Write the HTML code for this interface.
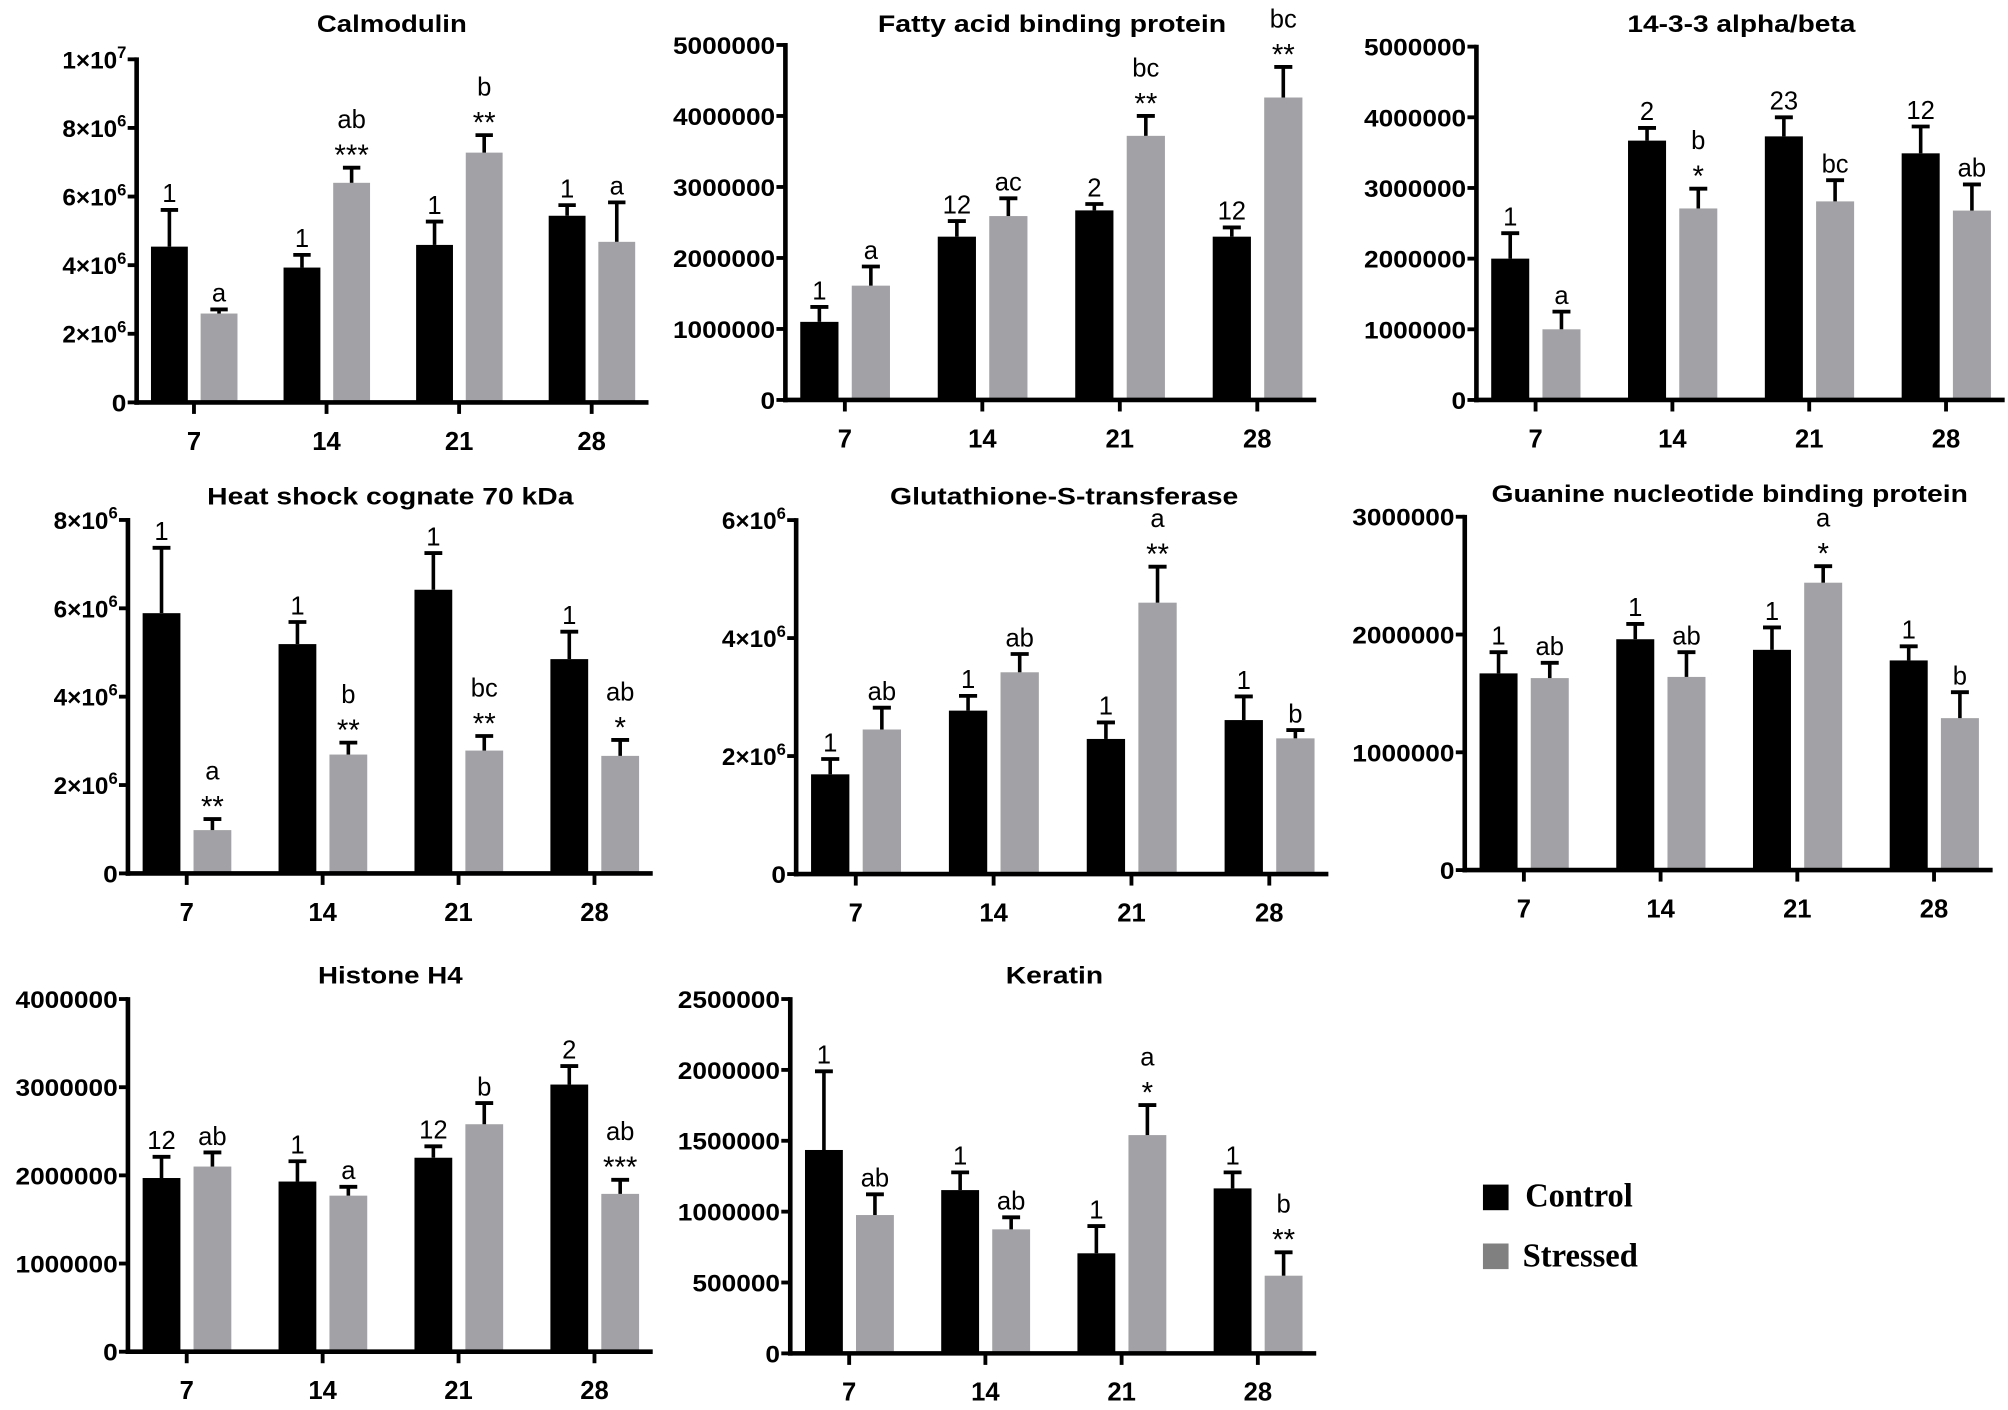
<!DOCTYPE html>
<html>
<head>
<meta charset="utf-8">
<style>
  html,body{margin:0;padding:0;background:#fff;}
  svg{display:block;}
  text{font-family:"Liberation Sans",Arial,sans-serif;}
  text.serif{font-family:"Liberation Serif","Times New Roman",serif;}
</style>
</head>
<body>
<svg id="fig" width="2008" height="1410" viewBox="0 0 1568 1101" xmlns="http://www.w3.org/2000/svg">
  <rect x="0" y="0" width="1568" height="1101" fill="#fff"/>
  <g>
    <rect x="1158" y="925" width="20" height="20" fill="#000"/>
    <text class="serif" x="1191" y="942" font-weight="bold" font-size="26" textLength="84" lengthAdjust="spacingAndGlyphs">Control</text>
    <rect x="1158" y="971" width="20" height="20" fill="#808080"/>
    <text class="serif" x="1189" y="989" font-weight="bold" font-size="26" textLength="90" lengthAdjust="spacingAndGlyphs">Stressed</text>
  </g>
</svg>
<script>
const days = ['7','14','21','28'];

// Calmodulin
const calmodulinControl = [4.54e6, 3.93e6, 4.59e6, 5.44e6];
const calmodulinControlErr = [1.07e6, 0.37e6, 0.68e6, 0.31e6];
const calmodulinStressed = [2.59e6, 6.40e6, 7.28e6, 4.68e6];
const calmodulinStressedErr = [0.12e6, 0.44e6, 0.51e6, 1.15e6];
const calmodulinControlLabels = ['1','1','1','1'];
const calmodulinStressedLabels = ['a','ab','b','a'];
const calmodulinStars = ['','***','**',''];
const calmodulinTicks = [0, 2e6, 4e6, 6e6, 8e6, 1e7];
const calmodulinTickLabels = ['0','2×10|6','4×10|6','6×10|6','8×10|6','1×10|7'];

// Fatty acid binding protein
const fattyControl = [1.10e6, 2.30e6, 2.67e6, 2.30e6];
const fattyControlErr = [0.21e6, 0.22e6, 0.09e6, 0.13e6];
const fattyStressed = [1.61e6, 2.59e6, 3.72e6, 4.26e6];
const fattyStressedErr = [0.27e6, 0.25e6, 0.28e6, 0.43e6];
const fattyControlLabels = ['1','12','2','12'];
const fattyStressedLabels = ['a','ac','bc','bc'];
const fattyStars = ['','','**','**'];
const fattyTicks = [0, 1e6, 2e6, 3e6, 4e6, 5e6];
const fattyTickLabels = ['0','1000000','2000000','3000000','4000000','5000000'];

// 14-3-3 alpha/beta
const alphaBetaControl = [2.00e6, 3.67e6, 3.73e6, 3.49e6];
const alphaBetaControlErr = [0.36e6, 0.18e6, 0.27e6, 0.38e6];
const alphaBetaStressed = [1.00e6, 2.71e6, 2.81e6, 2.68e6];
const alphaBetaStressedErr = [0.25e6, 0.28e6, 0.30e6, 0.37e6];
const alphaBetaControlLabels = ['1','2','23','12'];
const alphaBetaStressedLabels = ['a','b','bc','ab'];
const alphaBetaStars = ['','*','',''];
const alphaBetaTicks = [0, 1e6, 2e6, 3e6, 4e6, 5e6];
const alphaBetaTickLabels = ['0','1000000','2000000','3000000','4000000','5000000'];

// Heat shock cognate 70 kDa
const heatControl = [5.89e6, 5.19e6, 6.42e6, 4.85e6];
const heatControlErr = [1.48e6, 0.50e6, 0.83e6, 0.62e6];
const heatStressed = [0.98e6, 2.69e6, 2.78e6, 2.66e6];
const heatStressedErr = [0.25e6, 0.27e6, 0.33e6, 0.36e6];
const heatControlLabels = ['1','1','1','1'];
const heatStressedLabels = ['a','b','bc','ab'];
const heatStars = ['**','**','**','*'];
const heatTicks = [0, 2e6, 4e6, 6e6, 8e6];
const heatTickLabels = ['0','2×10|6','4×10|6','6×10|6','8×10|6'];

// Glutathione-S-transferase
const gstControl = [1.69e6, 2.77e6, 2.29e6, 2.61e6];
const gstControlErr = [0.26e6, 0.25e6, 0.28e6, 0.40e6];
const gstStressed = [2.45e6, 3.42e6, 4.60e6, 2.30e6];
const gstStressedErr = [0.37e6, 0.31e6, 0.61e6, 0.14e6];
const gstControlLabels = ['1','1','1','1'];
const gstStressedLabels = ['ab','ab','a','b'];
const gstStars = ['','','**',''];
const gstTicks = [0, 2e6, 4e6, 6e6];
const gstTickLabels = ['0','2×10|6','4×10|6','6×10|6'];

// Guanine nucleotide binding protein
const guanineControl = [1.67e6, 1.96e6, 1.87e6, 1.78e6];
const guanineControlErr = [0.18e6, 0.13e6, 0.19e6, 0.12e6];
const guanineStressed = [1.63e6, 1.64e6, 2.44e6, 1.29e6];
const guanineStressedErr = [0.13e6, 0.21e6, 0.14e6, 0.22e6];
const guanineControlLabels = ['1','1','1','1'];
const guanineStressedLabels = ['ab','ab','a','b'];
const guanineStars = ['','','*',''];
const guanineTicks = [0, 1e6, 2e6, 3e6];
const guanineTickLabels = ['0','1000000','2000000','3000000'];

// Histone H4
const histoneControl = [1.97e6, 1.93e6, 2.20e6, 3.03e6];
const histoneControlErr = [0.24e6, 0.23e6, 0.13e6, 0.21e6];
const histoneStressed = [2.10e6, 1.77e6, 2.58e6, 1.79e6];
const histoneStressedErr = [0.16e6, 0.10e6, 0.24e6, 0.16e6];
const histoneControlLabels = ['12','1','12','2'];
const histoneStressedLabels = ['ab','a','b','ab'];
const histoneStars = ['','','','***'];
const histoneTicks = [0, 1e6, 2e6, 3e6, 4e6];
const histoneTickLabels = ['0','1000000','2000000','3000000','4000000'];

// Keratin
const keratinControl = [1.435e6, 1.152e6, 0.706e6, 1.164e6];
const keratinControlErr = [0.555e6, 0.125e6, 0.192e6, 0.113e6];
const keratinStressed = [0.976e6, 0.875e6, 1.54e6, 0.548e6];
const keratinStressedErr = [0.146e6, 0.085e6, 0.212e6, 0.165e6];
const keratinControlLabels = ['1','1','1','1'];
const keratinStressedLabels = ['ab','ab','a','b'];
const keratinStars = ['','','*','**'];
const keratinTicks = [0, 5e5, 1e6, 1.5e6, 2e6, 2.5e6];
const keratinTickLabels = ['0','500000','1000000','1500000','2000000','2500000'];

const NS = 'http://www.w3.org/2000/svg';
const svg = document.getElementById('fig');

function mk(tag, attrs, parent) {
  const el = document.createElementNS(NS, tag);
  for (const k in attrs) el.setAttribute(k, attrs[k]);
  parent.appendChild(el);
  return el;
}

const panels = [
  {key:'calmodulin', title:'Calmodulin', tcx:306, ty:25, tw:117, x0:106.7, x1:506.4, base:314.2, topY:46.3,
   c:calmodulinControl, ce:calmodulinControlErr, s:calmodulinStressed, se:calmodulinStressedErr,
   cl:calmodulinControlLabels, sl:calmodulinStressedLabels, st:calmodulinStars, ticks:calmodulinTicks, tl:calmodulinTickLabels},
  {key:'fatty-acid', title:'Fatty acid binding protein', tcx:821.5, ty:25, tw:272, x0:613.3, x1:1027.8, base:312.3, topY:35.1,
   c:fattyControl, ce:fattyControlErr, s:fattyStressed, se:fattyStressedErr,
   cl:fattyControlLabels, sl:fattyStressedLabels, st:fattyStars, ticks:fattyTicks, tl:fattyTickLabels},
  {key:'alpha-beta', title:'14-3-3 alpha/beta', tcx:1359.8, ty:25, tw:178, x0:1152.9, x1:1565.4, base:312.3, topY:36.4,
   c:alphaBetaControl, ce:alphaBetaControlErr, s:alphaBetaStressed, se:alphaBetaStressedErr,
   cl:alphaBetaControlLabels, sl:alphaBetaStressedLabels, st:alphaBetaStars, ticks:alphaBetaTicks, tl:alphaBetaTickLabels},
  {key:'heat-shock', title:'Heat shock cognate 70 kDa', tcx:304.8, ty:394, tw:286, x0:99.9, x1:509.7, base:682, topY:406,
   c:heatControl, ce:heatControlErr, s:heatStressed, se:heatStressedErr,
   cl:heatControlLabels, sl:heatStressedLabels, st:heatStars, ticks:heatTicks, tl:heatTickLabels},
  {key:'glutathione', title:'Glutathione-S-transferase', tcx:831, ty:394, tw:272, x0:621.7, x1:1037.3, base:682.5, topY:406.1,
   c:gstControl, ce:gstControlErr, s:gstStressed, se:gstStressedErr,
   cl:gstControlLabels, sl:gstStressedLabels, st:gstStars, ticks:gstTicks, tl:gstTickLabels},
  {key:'guanine', title:'Guanine nucleotide binding protein', tcx:1350.7, ty:392, tw:372, x0:1143.8, x1:1556, base:679.4, topY:403.5,
   c:guanineControl, ce:guanineControlErr, s:guanineStressed, se:guanineStressedErr,
   cl:guanineControlLabels, sl:guanineStressedLabels, st:guanineStars, ticks:guanineTicks, tl:guanineTickLabels},
  {key:'histone', title:'Histone H4', tcx:304.8, ty:768, tw:113, x0:99.9, x1:509.7, base:1055.5, topY:780.1,
   c:histoneControl, ce:histoneControlErr, s:histoneStressed, se:histoneStressedErr,
   cl:histoneControlLabels, sl:histoneStressedLabels, st:histoneStars, ticks:histoneTicks, tl:histoneTickLabels},
  {key:'keratin', title:'Keratin', tcx:823.4, ty:768, tw:76, x0:617.1, x1:1027.8, base:1056.8, topY:780.1,
   c:keratinControl, ce:keratinControlErr, s:keratinStressed, se:keratinStressedErr,
   cl:keratinControlLabels, sl:keratinStressedLabels, st:keratinStars, ticks:keratinTicks, tl:keratinTickLabels}
];

panels.forEach(p => {
  const g = mk('g', {}, svg);
  
  
  const span = p.x1 - p.x0;
  const maxV = p.ticks[p.ticks.length - 1];
  const yScale = v => p.base - (v / maxV) * (p.base - p.topY);
  const xCat = i => p.x0 + (0.112 + 0.259 * i) * span;
  const bw = 0.072 * span;
  const cw = 0.034 * span;

  const t = mk('text', {x:p.tcx, y:p.ty, 'text-anchor':'middle', 'font-weight':'bold', 'font-size':19, textLength:p.tw, lengthAdjust:'spacingAndGlyphs'}, g);
  
  
  t.textContent = p.title;

  function errBar(cx, v, e, name) {
    const yt = yScale(v + e);
    const l = mk('line', {x1:cx, x2:cx, y1:yScale(v), y2:yt, stroke:'#000', 'stroke-width':2.8}, g);
    
    
    const cap = mk('line', {x1:cx - cw/2, x2:cx + cw/2, y1:yt, y2:yt, stroke:'#000', 'stroke-width':3}, g);
    
    
    return yt;
  }
  function annot(cx, y, txt, name, size) {
    const a = mk('text', {x:cx, y:y, 'text-anchor':'middle', 'font-size':size || 20}, g);
    
    
    a.textContent = txt;
  }

  days.forEach((d, i) => {
    const c = xCat(i);
    const bx = c - 0.084 * span;
    const b1 = mk('rect', {x:bx, y:yScale(p.c[i]), width:bw, height:p.base - yScale(p.c[i]), fill:'#000'}, g);
    
    
    const sx = c + 0.013 * span;
    const b2 = mk('rect', {x:sx, y:yScale(p.s[i]), width:bw, height:p.base - yScale(p.s[i]), fill:'#a2a2a6'}, g);
    
    

    const ct = errBar(bx + bw/2, p.c[i], p.ce[i], p.key + '-control-error-day' + d);
    const stt = errBar(sx + bw/2, p.s[i], p.se[i], p.key + '-stressed-error-day' + d);

    annot(bx + bw/2, ct - 6, p.cl[i], p.key + '-control-annotation-day' + d);
    if (p.st[i]) {
      annot(sx + bw/2, stt - 2, p.st[i], p.key + '-stressed-stars-day' + d, 23);
      annot(sx + bw/2, stt - 31, p.sl[i], p.key + '-stressed-annotation-day' + d);
    } else {
      annot(sx + bw/2, stt - 6, p.sl[i], p.key + '-stressed-annotation-day' + d);
    }

    const xt = mk('line', {x1:c, x2:c, y1:p.base, y2:p.base + 9, stroke:'#000', 'stroke-width':3}, g);
    
    
    const xl = mk('text', {x:c, y:p.base + 37, 'text-anchor':'middle', 'font-weight':'bold', 'font-size':20}, g);
    
    
    xl.textContent = d;
  });

  const ya = mk('line', {x1:p.x0, x2:p.x0, y1:p.topY - 1.5, y2:p.base + 1.8, stroke:'#000', 'stroke-width':3.6}, g);
  
  
  const xa = mk('line', {x1:p.x0 - 1.8, x2:p.x1, y1:p.base, y2:p.base, stroke:'#000', 'stroke-width':3.6}, g);
  
  

  p.ticks.forEach((tv, k) => {
    const ty = yScale(tv);
    const tk = mk('line', {x1:p.x0 - 7, x2:p.x0, y1:ty, y2:ty, stroke:'#000', 'stroke-width':3}, g);
    
    
    const parts = p.tl[k].split('|');
    const lab = mk('text', {x:p.x0 - 8, y:ty + 7, 'text-anchor':'end', 'font-weight':'bold', 'font-size':19}, g);
    
    
    if (parts.length === 1) {
      lab.setAttribute('textLength', parts[0].length * 11.4);
      lab.setAttribute('lengthAdjust', 'spacingAndGlyphs');
      lab.textContent = parts[0];
    } else {
      const t1 = mk('tspan', {}, lab);
      t1.textContent = parts[0];
      const t2 = mk('tspan', {dy:-8, 'font-size':13}, lab);
      t2.textContent = parts[1];
    }
  });
});
</script>
</body>
</html>
